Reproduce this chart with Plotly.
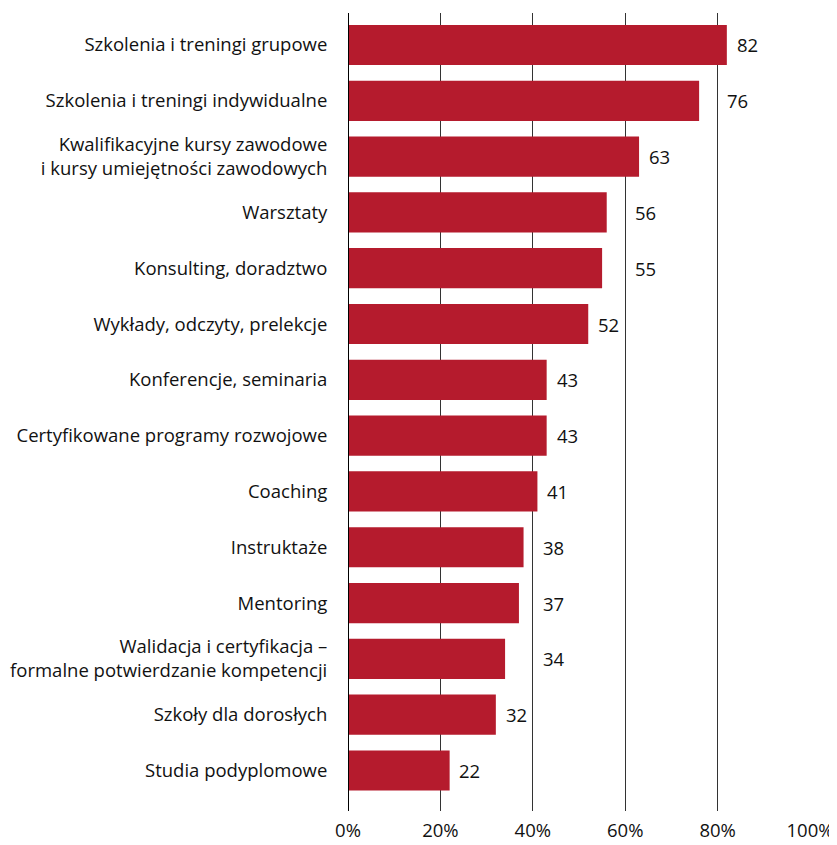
import plotly.graph_objects as go

categories = [
    "Szkolenia i treningi grupowe",
    "Szkolenia i treningi indywidualne",
    "Kwalifikacyjne kursy zawodowe<br>i kursy umiejętności zawodowych",
    "Warsztaty",
    "Konsulting, doradztwo",
    "Wykłady, odczyty, prelekcje",
    "Konferencje, seminaria",
    "Certyfikowane programy rozwojowe",
    "Coaching",
    "Instruktaże",
    "Mentoring",
    "Walidacja i certyfikacja –<br>formalne potwierdzanie kompetencji",
    "Szkoły dla dorosłych",
    "Studia podyplomowe",
]
values = [82, 76, 63, 56, 55, 52, 43, 43, 41, 38, 37, 34, 32, 22]
tick_vals = [0, 20, 40, 60, 80, 100]
tick_text = ["0%", "20%", "40%", "60%", "80%", "100%"]

FONT = "Open Sans"
FS = 18.5
TXT = "#111111"
BAR = "#B51B2D"

fig = go.Figure()
fig.add_trace(go.Bar(
    x=values, y=categories, orientation="h",
    marker=dict(color=BAR, line=dict(width=0)),
    hoverinfo="skip",
))

# value labels: right of bar end, pushed past a gridline if they would overlap it
pad = 1.7
lw = 4.6
annotations = []
for c, v in zip(categories, values):
    xs = v + pad
    for g in tick_vals[1:]:
        if v < g < v + pad + lw:
            xs = g + pad
            break
    annotations.append(dict(
        x=xs, y=c, text=str(v), showarrow=False, xanchor="left",
        yanchor="middle", font=dict(family=FONT, size=FS, color=TXT),
    ))

n = len(categories)
# page body has an 8px default margin, so the figure is sized/offset to compensate
fig.update_layout(
    width=829, height=837,
    margin=dict(l=340, r=27, t=5, b=34, autoexpand=False),
    plot_bgcolor="white", paper_bgcolor="white",
    showlegend=False,
    bargap=0.28,
    annotations=annotations,
    font=dict(family=FONT, size=FS, color=TXT),
    xaxis=dict(
        range=[0, 100], tickvals=tick_vals, ticktext=tick_text,
        showgrid=True, gridcolor="#333333", gridwidth=1,
        zeroline=False, showline=False, automargin=False,
        ticks="outside", ticklen=3, tickcolor="rgba(0,0,0,0)",
        tickfont=dict(family=FONT, size=FS, color=TXT),
        layer="below traces",
    ),
    yaxis=dict(
        type="category", categoryorder="array", categoryarray=categories,
        range=[n - 1 + 0.726, -0.573], automargin=False,
        showgrid=False, zeroline=False, showline=False,
        ticks="outside", ticklen=16, tickcolor="rgba(0,0,0,0)",
        tickfont=dict(family=FONT, size=FS, color=TXT),
    ),
    shapes=[dict(type="line", xref="x", yref="paper", x0=0, x1=0, y0=0, y1=1,
                 line=dict(color="black", width=2), layer="above")],
)

fig.write_html("out.html")
